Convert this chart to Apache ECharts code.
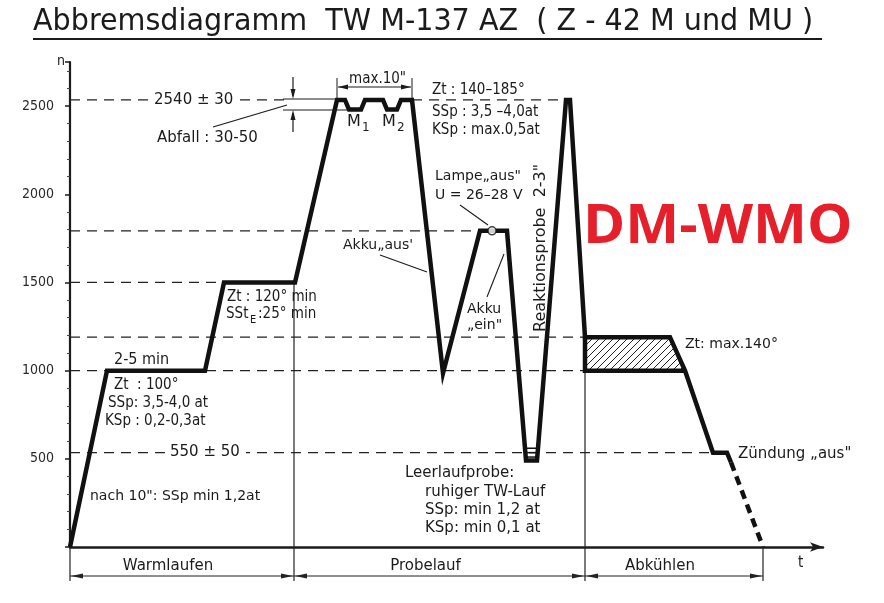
<!DOCTYPE html>
<html>
<head>
<meta charset="utf-8">
<title>Abbremsdiagramm TW M-137 AZ</title>
<script src="https://cdn.jsdelivr.net/npm/echarts@6/dist/echarts.min.js"></script>
<style>
html, body { margin: 0; padding: 0; background: #fff; }
#chart { width: 884px; height: 603px; }
</style>
</head>
<body>
<div id="chart"></div>
<script>
// Drehzahlverlauf (t in beliebigen Zeiteinheiten, n in U/min)
const curveT = [0, 37, 135, 154, 225, 267, 275, 279, 291, 295, 313, 317, 327, 331, 342, 373, 410, 437, 456, 467, 496, 500, 515, 600, 615, 643, 657, 661]
const curveN = [0, 1000, 1000, 1500, 1500, 2535, 2535, 2480, 2480, 2535, 2535, 2480, 2480, 2535, 2535, 985, 1793, 1793, 490, 490, 2535, 2535, 1190, 1190, 1000, 535, 535, 480]
// Zündung aus -> Auslauf (gestrichelt)
const tailT = [661, 693]
const tailN = [480, 0]
// Abkühlen: schraffiertes Feld
const boxT = [515, 600, 615, 515]
const boxN = [1190, 1190, 1000, 1000]
const boxLowT = [515, 515, 615]
const boxLowN = [1190, 1000, 1000]
// Lampe "aus"
const lampT = [422]
const lampN = [1793]
// Leerlaufprobe: Striche im Tiefpunkt
const idleN = [560, 535, 510]
// Hilfslinien (gestrichelt)
const refN = [2535, 2535, 1793, 1500, 1190, 1000, 535]
const refT0 = [0, 342, 0, 0, 0, 0, 0]
const refT1 = [218, 496, 410, 154, 515, 515, 643]
// senkrechte Trennlinien
const sepT = [0, 224, 515, 693]
const sepTop = [0, 1500, 1000, 0]
// Phasen
const phaseName = ['Warmlaufen', 'Probelauf', 'Abkühlen']
const phaseStart = [0, 224, 515]
const phaseEnd = [224, 515, 693]
// y-Achse
const nTicks = [500, 1000, 1500, 2000, 2500]

const F = '"DejaVu Sans Condensed", "Liberation Sans Narrow", "DejaVu Sans", sans-serif'
const FW = '"DejaVu Sans", "Liberation Sans", sans-serif'
const INK = '#1b1b1b'

function hatchPattern() {
  var c = document.createElement('canvas')
  c.width = 7
  c.height = 7
  var g = c.getContext('2d')
  g.strokeStyle = '#222'
  g.lineWidth = 1
  g.beginPath()
  g.moveTo(0, 7); g.lineTo(7, 0)
  g.moveTo(-1, 1); g.lineTo(1, -1)
  g.moveTo(6, 8); g.lineTo(8, 6)
  g.stroke()
  return c
}

function txt(x, y, s, size, extra) {
  return {
    type: 'text', x: x, y: y, z: 100,
    style: Object.assign({
      text: s, font: (size || 15) + 'px ' + F, fill: INK, verticalAlign: 'middle'
    }, extra || {})
  }
}
function wtxt(x, y, s, size) {
  return txt(x, y, s, size, { font: (size || 15) + 'px ' + FW })
}
function seg(x1, y1, x2, y2, w) {
  return { type: 'line', z: 100, shape: { x1: x1, y1: y1, x2: x2, y2: y2 }, style: { stroke: INK, lineWidth: w || 1.2 } }
}
function tri(points) {
  return { type: 'polygon', z: 100, shape: { points: points }, style: { fill: INK } }
}

var myChart = echarts.init(document.getElementById('chart'))
const pattern = { image: hatchPattern(), repeat: 'repeat' }

var title = txt(33, 22, 'Abbremsdiagramm  TW M-137 AZ  ( Z - 42 M und MU )', 30)
title.scaleX = 1.06
var brand = txt(583, 228, 'DM-WMO', 54, { font: 'bold 54px "Open Sans", "Noto Sans", sans-serif', fill: '#e5202a' })
brand.scaleX = 1.06

const option = {
  animation: false,
  backgroundColor: '#fff',
  grid: { left: 70, right: 61, top: 62, bottom: 56 },
  xAxis: {
    type: 'value', min: 0, max: 753,
    axisLine: { show: true, lineStyle: { color: INK, width: 2.5 }, symbol: ['none', 'arrow'], symbolSize: [7, 13] },
    axisTick: { show: false }, axisLabel: { show: false }, splitLine: { show: false }
  },
  yAxis: {
    type: 'value', min: 0, max: 2750, interval: 500,
    axisLine: { show: true, lineStyle: { color: INK, width: 2.2 } },
    axisTick: { show: true, length: 5, lineStyle: { color: INK, width: 1.5 } },
    minorTick: { show: true, splitNumber: 5, length: 3, lineStyle: { color: '#444' } },
    axisLabel: {
      margin: 16, color: '#2a2a2a', fontSize: 14, fontFamily: F,
      formatter: function (v) { return nTicks.indexOf(v) >= 0 ? String(v) : '' }
    },
    splitLine: { show: false }
  },
  series: [
    {
      name: 'Hilfslinien', type: 'custom', z: 1,
      data: refN.map(function (n, i) { return [n, refT0[i], refT1[i]] }),
      encode: { x: [1, 2], y: 0 },
      renderItem: function (params, api) {
        var a = api.coord([api.value(1), api.value(0)])
        var b = api.coord([api.value(2), api.value(0)])
        return { type: 'line', shape: { x1: a[0], y1: a[1], x2: b[0], y2: b[1] }, style: { stroke: '#222', lineWidth: 1.3, lineDash: [10, 7] } }
      }
    },
    {
      name: 'Trennlinien', type: 'custom', z: 1,
      data: sepT.map(function (t, i) { return [t, sepTop[i]] }),
      renderItem: function (params, api) {
        var a = api.coord([api.value(0), api.value(1)])
        var b = api.coord([api.value(0), 0])
        return { type: 'line', shape: { x1: a[0], y1: a[1], x2: b[0], y2: b[1] + 34 }, style: { stroke: '#222', lineWidth: 1.2 } }
      }
    },
    {
      name: 'Phasen', type: 'custom', z: 3,
      data: phaseName.map(function (p, i) { return [phaseStart[i], phaseEnd[i], p] }),
      renderItem: function (params, api) {
        var a = api.coord([api.value(0), 0])
        var b = api.coord([api.value(1), 0])
        var y = a[1] + 29
        var name = phaseName[params.dataIndex]
        return {
          type: 'group',
          children: [
            { type: 'line', shape: { x1: a[0], y1: y, x2: b[0], y2: y }, style: { stroke: '#222', lineWidth: 1.2 } },
            { type: 'polygon', shape: { points: [[a[0] + 1, y], [a[0] + 13, y - 2.5], [a[0] + 13, y + 2.5]] }, style: { fill: '#222' } },
            { type: 'polygon', shape: { points: [[b[0] - 1, y], [b[0] - 13, y - 2.5], [b[0] - 13, y + 2.5]] }, style: { fill: '#222' } },
            {
              type: 'text', x: (a[0] + b[0]) / 2 - 14, y: y - 10,
              style: { text: name, font: '15px ' + FW, fill: INK, align: 'center', verticalAlign: 'middle' }
            }
          ]
        }
      }
    },
    {
      name: 'Abkühlen', type: 'custom', z: 2,
      data: boxT.map(function (t, i) { return [t, boxN[i]] }),
      renderItem: function (params, api) {
        if (params.dataIndex > 0) return
        var pts = boxT.map(function (t, i) { return api.coord([t, boxN[i]]) })
        return { type: 'polygon', shape: { points: pts }, style: { fill: pattern } }
      }
    },
    {
      name: 'Leerlauf', type: 'custom', z: 4,
      data: idleN.map(function (n) { return [461, n] }),
      renderItem: function (params, api) {
        var p = api.coord([api.value(0), api.value(1)])
        return { type: 'line', shape: { x1: p[0] - 5, y1: p[1], x2: p[0] + 5, y2: p[1] }, style: { stroke: '#111', lineWidth: 1.5 } }
      }
    },
    {
      name: 'Drehzahl', type: 'line', z: 5, showSymbol: false, symbol: 'none',
      data: curveT.map(function (t, i) { return [t, curveN[i]] }),
      lineStyle: { color: '#111', width: 4.5, join: 'miter' }
    },
    {
      name: 'Abkühlen unten', type: 'line', z: 5, showSymbol: false, symbol: 'none',
      data: boxLowT.map(function (t, i) { return [t, boxLowN[i]] }),
      lineStyle: { color: '#111', width: 4.5, join: 'miter' }
    },
    {
      name: 'Auslauf', type: 'line', z: 5, showSymbol: false, symbol: 'none', clip: false,
      data: tailT.map(function (t, i) { return [t, tailN[i]] }),
      lineStyle: { color: '#111', width: 4.5, type: [9, 6] }
    },
    {
      name: 'Lampe', type: 'scatter', z: 6, symbol: 'circle', symbolSize: 8,
      data: lampT.map(function (t, i) { return [t, lampN[i]] }),
      itemStyle: { color: '#fff', borderColor: '#111', borderWidth: 1.5 }
    }
  ],
  graphic: [
    // Titel
    title,
    seg(33, 39, 822, 39, 2),
    txt(57, 61, 'n', 14),
    // 2540 +- 30 / Abfall
    wtxt(154, 100, '2540 ± 30', 15),
    { type: 'rect', z: 99, shape: { x: 152, y: 92, width: 84, height: 16 }, style: { fill: '#fff' } },
    wtxt(157, 138, 'Abfall : 30-50', 15),
    seg(213, 127, 287, 105, 1.3),
    seg(283, 99, 337, 99, 1), seg(283, 110, 349, 110, 1),
    seg(293, 77, 293, 96, 1.2), tri([[293, 99], [290.5, 89], [295.5, 89]]),
    seg(293, 113, 293, 132, 1.2), tri([[293, 110], [290.5, 120], [295.5, 120]]),
    // max.10"
    txt(349, 79, 'max.10"', 15),
    seg(337, 78, 337, 98, 1), seg(412, 78, 412, 98, 1),
    seg(338, 87, 411, 87, 1.2),
    tri([[338, 87], [348, 84.5], [348, 89.5]]), tri([[411, 87], [401, 84.5], [401, 89.5]]),
    wtxt(347, 122, 'M', 16), wtxt(362, 128, '1', 12),
    wtxt(382, 122, 'M', 16), wtxt(397, 128, '2', 12),
    txt(432, 90, 'Zt : 140–185°', 15),
    txt(432, 112, 'SSp : 3,5 –4,0at', 15),
    txt(432, 130, 'KSp : max.0,5at', 15),
    // Lampe aus
    wtxt(435, 176, 'Lampe„aus"', 14),
    wtxt(435, 195, 'U = 26–28 V', 14),
    seg(460, 205, 488, 225, 1.1),
    // Akku
    wtxt(343, 245, 'Akku„aus\'', 14),
    seg(380, 255, 427, 272, 1.1),
    wtxt(467, 309, 'Akku', 14),
    wtxt(467, 325, '„ein"', 14),
    seg(487, 297, 504, 254, 1.1),
    {
      type: 'text', x: 541, y: 332, rotation: Math.PI / 2, z: 100,
      style: { text: 'Reaktionsprobe  2-3"', font: '16px ' + FW, fill: INK, verticalAlign: 'middle' }
    },
    brand,
    // Warmlaufen-Texte
    txt(227, 297, 'Zt : 120° min', 15),
    txt(226, 314, 'SSt', 15), txt(250, 320, 'E', 11), txt(258, 314, ':25° min', 15),
    txt(114, 360, '2-5 min', 16),
    txt(114, 385, 'Zt  : 100°', 15),
    txt(108, 403, 'SSp: 3,5-4,0 at', 15),
    txt(105, 421, 'KSp : 0,2-0,3at', 15),
    wtxt(170, 452, '550 ± 50', 15),
    { type: 'rect', z: 99, shape: { x: 166, y: 444, width: 80, height: 16 }, style: { fill: '#fff' } },
    wtxt(90, 496, 'nach 10": SSp min 1,2at', 14),
    // Leerlaufprobe
    wtxt(405, 473, 'Leerlaufprobe:', 15),
    wtxt(425, 492, 'ruhiger TW-Lauf', 15),
    wtxt(425, 510, 'SSp: min 1,2 at', 15),
    wtxt(425, 528, 'KSp: min 0,1 at', 15),
    // Abkühlen
    wtxt(685, 344, 'Zt: max.140°', 14),
    wtxt(738, 454, 'Zündung „aus"', 15),
    txt(798, 563, 't', 15)
  ]
}

myChart.setOption(option)
</script>
</body>
</html>
